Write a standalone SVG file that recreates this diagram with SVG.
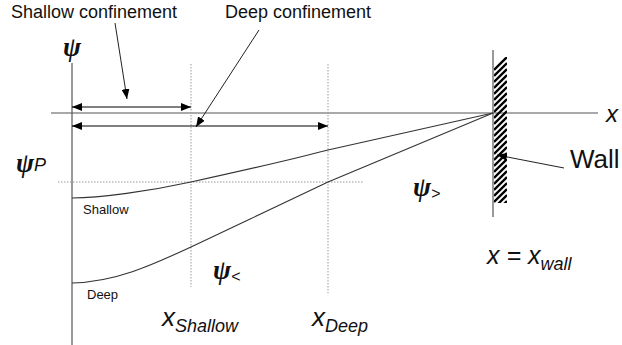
<svg xmlns="http://www.w3.org/2000/svg" width="622" height="345" viewBox="0 0 622 345">
<style>
.ax{stroke:#555;stroke-width:1.2;fill:none}
.dot{stroke:#999;stroke-width:1;stroke-dasharray:1.5 1.5;fill:none}
.curve{stroke:#333;stroke-width:1.1;fill:none}
.arr{stroke:#000;stroke-width:1.2;fill:none}
.lead{stroke:#222;stroke-width:1;fill:none}
.t{font-family:"Liberation Sans",Arial,sans-serif;fill:#111}
.psi{font-family:"Liberation Serif","DejaVu Serif",serif;font-style:italic;font-weight:bold;fill:#111}
.it{font-family:"Liberation Sans",Arial,sans-serif;font-style:italic;font-weight:normal;fill:#111}
</style>
<defs>
<marker id="ah" viewBox="0 0 10 8" refX="10" refY="4" markerWidth="10" markerHeight="8" markerUnits="userSpaceOnUse" orient="auto-start-reverse">
<path d="M0,0 L10,4 L0,8 Z" fill="#000"/>
</marker>
<clipPath id="wc"><rect x="494" y="57" width="13" height="146"/></clipPath>
</defs>
<g id="axes">
<line class="ax" x1="72" y1="63" x2="72" y2="345"/>
<line class="ax" x1="51" y1="113" x2="598" y2="113"/>
<text class="it" x="606" y="122" font-size="24">x</text>
<text class="psi" x="63" y="56" font-size="27">ψ</text>
</g>
<g id="guides">
<line class="dot" x1="191" y1="64" x2="191" y2="287"/>
<line class="dot" x1="328" y1="64" x2="328" y2="293"/>
<line class="dot" x1="58" y1="182" x2="363" y2="182"/>
</g>
<g id="wall">
<line class="ax" x1="493" y1="50" x2="493" y2="217"/>
<g clip-path="url(#wc)" stroke="#000" stroke-width="2.4">
<line x1="494" y1="70" x2="507" y2="57"/><line x1="494" y1="76" x2="507" y2="63"/><line x1="494" y1="82" x2="507" y2="69"/><line x1="494" y1="88" x2="507" y2="75"/><line x1="494" y1="94" x2="507" y2="81"/><line x1="494" y1="100" x2="507" y2="87"/><line x1="494" y1="106" x2="507" y2="93"/><line x1="494" y1="112" x2="507" y2="99"/><line x1="494" y1="118" x2="507" y2="105"/><line x1="494" y1="124" x2="507" y2="111"/><line x1="494" y1="130" x2="507" y2="117"/><line x1="494" y1="136" x2="507" y2="123"/><line x1="494" y1="142" x2="507" y2="129"/><line x1="494" y1="148" x2="507" y2="135"/><line x1="494" y1="154" x2="507" y2="141"/><line x1="494" y1="160" x2="507" y2="147"/><line x1="494" y1="166" x2="507" y2="153"/><line x1="494" y1="172" x2="507" y2="159"/><line x1="494" y1="178" x2="507" y2="165"/><line x1="494" y1="184" x2="507" y2="171"/><line x1="494" y1="190" x2="507" y2="177"/><line x1="494" y1="196" x2="507" y2="183"/><line x1="494" y1="202" x2="507" y2="189"/><line x1="494" y1="208" x2="507" y2="195"/><line x1="494" y1="214" x2="507" y2="201"/>
</g>
<text class="t" x="570" y="168" font-size="26">Wall</text>
<text class="it" x="487" y="264" font-size="25">x = x<tspan font-size="18" dy="6">wall</tspan></text>
</g>
<g id="curves">
<path class="curve" d="M72,198 C100,198 150,191 191,182 S290,160 328,150 L493,113"/>
<path class="curve" d="M72,283 C115,282 150,266 191,247 S300,195 328,182 L493,113"/>
<text class="t" x="83" y="214" font-size="13">Shallow</text>
<text class="t" x="87" y="299" font-size="13">Deep</text>
</g>
<g id="labels">
<text class="psi" x="16" y="172" font-size="27">ψ<tspan class="it" font-size="18" dy="-1">P</tspan></text>
<text class="psi" x="213" y="279" font-size="27">ψ<tspan class="it" font-size="16" dy="3">&lt;</tspan></text>
<text class="psi" x="413" y="196" font-size="27">ψ<tspan class="it" font-size="16" dy="3">&gt;</tspan></text>
<text class="it" x="162" y="326" font-size="26">x<tspan font-size="18" dy="6">Shallow</tspan></text>
<text class="it" x="312" y="326" font-size="26">x<tspan font-size="18" dy="6">Deep</tspan></text>
<text class="t" x="11" y="18" font-size="18">Shallow confinement</text>
<text class="t" x="225" y="18" font-size="18">Deep confinement</text>
</g>
<g id="connectors">
<line class="arr" x1="72" y1="107" x2="191" y2="107" marker-start="url(#ah)" marker-end="url(#ah)"/>
<line class="arr" x1="72" y1="126" x2="328" y2="126" marker-start="url(#ah)" marker-end="url(#ah)"/>
<line class="lead" x1="115" y1="23" x2="127" y2="99" marker-end="url(#ah)"/>
<line class="lead" x1="259" y1="30" x2="196" y2="127" marker-end="url(#ah)"/>
<line class="lead" x1="564" y1="168" x2="497" y2="155" marker-end="url(#ah)"/>
</g>
</svg>
